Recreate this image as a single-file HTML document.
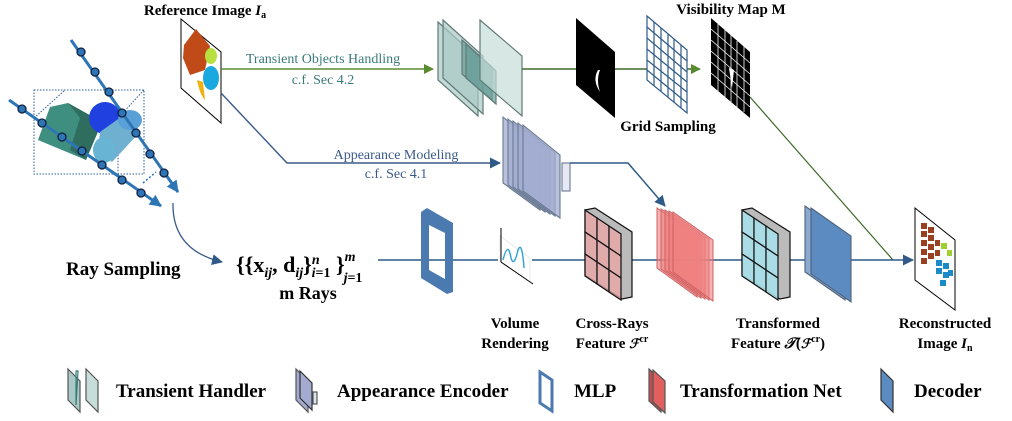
<!DOCTYPE html>
<html><head><meta charset="utf-8"><style>
body{margin:0;background:#fff;width:1012px;height:421px;overflow:hidden}
svg{display:block}
text{font-family:"Liberation Serif",serif}
.b{font-weight:bold;font-size:15px;fill:#000}
.lg{font-weight:bold;font-size:19px;fill:#000}
</style></head><body>
<svg width="1012" height="421" viewBox="0 0 1012 421" xmlns="http://www.w3.org/2000/svg">
<defs>
<marker id="ag" markerWidth="10" markerHeight="10" refX="9" refY="5" orient="auto" markerUnits="userSpaceOnUse"><path d="M0,0 L10,5 L0,10z" fill="#5a8a30"/></marker>
<marker id="ab" markerWidth="11" markerHeight="11" refX="10" refY="5.5" orient="auto" markerUnits="userSpaceOnUse"><path d="M0,0 L11,5.5 L0,11z" fill="#2f5a88"/></marker>
<marker id="ar" markerWidth="12" markerHeight="12" refX="11" refY="6" orient="auto" markerUnits="userSpaceOnUse"><path d="M0,0 L12,6 L0,12z" fill="#2e75b6"/></marker>
</defs>

<!-- 3D scene -->
<rect x="34" y="90" width="110" height="84" fill="none" stroke="#2e5c9a" stroke-dasharray="1.5,1.5"/>
<path d="M34,118 L65,90 M144,90 L118,118 L118,174" fill="none" stroke="#2e5c9a" stroke-dasharray="1.5,1.5"/>
<polygon points="50,107 68,103 102,122 86,160 38,140" fill="#3f8f80"/>
<polygon points="68,103 102,122 86,160 70,150 80,118" fill="#2f6d5f"/>
<circle cx="105" cy="118" r="16" fill="#2040e0"/>
<polygon points="100,132 128,112 140,132 112,162 98,150" fill="#6fb0d0"/>
<ellipse cx="130" cy="120" rx="12" ry="10" fill="#5aa0d8"/>
<ellipse cx="104" cy="150" rx="11" ry="13" fill="#68b4d4"/>
<line x1="71" y1="40" x2="178" y2="192" stroke="#2e75b6" stroke-width="3" marker-end="url(#ar)"/>
<line x1="9" y1="100" x2="161" y2="206" stroke="#2e75b6" stroke-width="3" marker-end="url(#ar)"/>
<line x1="143" y1="183" x2="156" y2="172" stroke="#2e75b6" stroke-width="1.5" stroke-dasharray="2,2"/>
<g fill="#2e75b6" stroke="#102040" stroke-width="1.3">
<circle cx="81" cy="52" r="4"/><circle cx="95" cy="72" r="4"/><circle cx="109" cy="92" r="4"/><circle cx="122" cy="113" r="4"/><circle cx="136" cy="133" r="4"/><circle cx="150" cy="154" r="4"/><circle cx="164" cy="173" r="4"/>
<circle cx="22" cy="109" r="4"/><circle cx="42" cy="123" r="4"/><circle cx="62" cy="137" r="4"/><circle cx="82" cy="151" r="4"/><circle cx="102" cy="165" r="4"/><circle cx="122" cy="180" r="4"/><circle cx="141" cy="193" r="4"/>
</g>
<path d="M173,203 Q172,250 222,262" fill="none" stroke="#3a5a8a" stroke-width="1.3" marker-end="url(#ab)"/>
<text class="b" x="66" y="275" style="font-size:19px">Ray Sampling</text>
<text x="236" y="272" font-size="22" font-weight="bold">{{x<tspan font-size="14" dy="5" font-style="italic">ij</tspan><tspan dy="-5">, d</tspan><tspan font-size="14" dy="5" font-style="italic">ij</tspan><tspan dy="-5">}</tspan><tspan font-size="14" dy="-8" font-style="italic">n</tspan><tspan font-size="14" dx="-8" dy="13" font-style="italic">i</tspan><tspan font-size="14">=1</tspan><tspan dy="-5"> }</tspan><tspan font-size="14" dy="-11" font-style="italic">m</tspan><tspan font-size="14" dx="-12" dy="21" font-style="italic">j</tspan><tspan font-size="14">=1</tspan></text>
<text class="b" x="308" y="299" text-anchor="middle" style="font-size:18px">m Rays</text>

<!-- reference image -->
<text class="b" x="205" y="15" text-anchor="middle">Reference Image <tspan font-style="italic">I</tspan><tspan font-size="10" dy="3">a</tspan></text>
<polygon points="181,19 221,52 221,123 181,88" fill="#fff" stroke="#000"/>
<polygon points="184,45 196,29 210,46 205,70 190,75 183,58" fill="#c04a18"/>
<ellipse cx="211" cy="56" rx="6" ry="8" fill="#b8e040"/>
<ellipse cx="211" cy="78" rx="8" ry="12" fill="#1aa8e0"/>
<path d="M197,80 Q200,95 205,100 L203,82z" fill="#f0b010"/>

<!-- transient line -->
<line x1="221" y1="69" x2="433" y2="69" stroke="#5a8a30" stroke-width="1.6" marker-end="url(#ag)"/>
<text x="323" y="63" text-anchor="middle" font-size="14" fill="#3a7a7a">Transient Objects Handling</text>
<text x="323" y="84" text-anchor="middle" font-size="14" fill="#3a7a7a">c.f. Sec 4.2</text>
<!-- appearance line -->
<polyline points="221,93 287,163 500,163" fill="none" stroke="#3a5a8a" stroke-width="1.4" marker-end="url(#ab)"/>
<text x="396" y="159" text-anchor="middle" font-size="14" fill="#3a5a8a">Appearance Modeling</text>
<text x="396" y="178" text-anchor="middle" font-size="14" fill="#3a5a8a">c.f. Sec 4.1</text>

<!-- transient handler -->
<g stroke="#5f7a78" stroke-width="1.2" fill="#a9c9c4" fill-opacity="0.7">
<polygon points="438,22 478,58 478,116 438,80"/>
<polygon points="443,20 483,56 483,114 443,78"/>
<polygon points="462,40 492,67 492,100 462,74" fill="#6a9e98"/>
<polygon points="466,44 496,71 496,104 466,78" fill="#6a9e98"/>
<polygon points="480,20 522,56 522,116 480,80" fill="#c6ddd9"/>
</g>
<line x1="522" y1="69" x2="700" y2="69" stroke="#3f6a2a" stroke-width="1.6" marker-end="url(#ag)"/>
<!-- mask -->
<polygon points="576,18 615,52 615,118 576,85" fill="#000"/>
<path d="M598,70 Q592,80 600,92 Q596,80 600,70z" fill="#fff"/>
<!-- grid -->
<g>
<polygon points="647,16 687,50 687,113 647,80" fill="#fff" stroke="#2f5a88" stroke-width="1.2"/>
<g stroke="#2f5a88" stroke-width="1.2">
<line x1="654" y1="22" x2="654" y2="86"/><line x1="661" y1="28" x2="661" y2="92"/><line x1="668" y1="34" x2="668" y2="97"/><line x1="674" y1="39" x2="674" y2="102"/><line x1="681" y1="45" x2="681" y2="108"/>
<line x1="647" y1="27" x2="687" y2="61"/><line x1="647" y1="38" x2="687" y2="72"/><line x1="647" y1="49" x2="687" y2="82"/><line x1="647" y1="60" x2="687" y2="92"/><line x1="647" y1="70" x2="687" y2="103"/>
</g></g>
<text class="b" x="668" y="131" text-anchor="middle">Grid Sampling</text>
<!-- visibility map -->
<text class="b" x="731" y="14" text-anchor="middle">Visibility Map M</text>
<polygon points="711,18 750,52 750,118 711,85" fill="#000"/>
<g stroke="#fff" stroke-width="0.8">
<line x1="718" y1="24" x2="718" y2="91"/><line x1="725" y1="30" x2="725" y2="97"/><line x1="731" y1="35" x2="731" y2="102"/><line x1="737" y1="41" x2="737" y2="107"/><line x1="744" y1="46" x2="744" y2="112"/>
<line x1="711" y1="29" x2="750" y2="63"/><line x1="711" y1="40" x2="750" y2="74"/><line x1="711" y1="51" x2="750" y2="85"/><line x1="711" y1="62" x2="750" y2="96"/><line x1="711" y1="73" x2="750" y2="107"/>
</g>
<path d="M729,68 L732,88 L734,70z" fill="#fff"/>
<line x1="750" y1="97" x2="893" y2="260" stroke="#3f6a2a" stroke-width="1.2"/>

<!-- appearance encoder -->
<g stroke="#6a7a92" stroke-width="1.1" fill="#a3acd0" fill-opacity="0.75">
<polygon points="503,117 540,147 540,210 503,183"/>
<polygon points="508,119 545,149 545,212 508,185"/>
<polygon points="513,121 550,151 550,214 513,187"/>
<polygon points="518,123 555,153 555,216 518,189"/>
<polygon points="523,125 560,155 560,218 523,191"/>
<rect x="562" y="163" width="8" height="28" fill="#dde2ef"/>
</g>
<polyline points="570,163 628,163 665,206" fill="none" stroke="#2f5a88" stroke-width="1.5" marker-end="url(#ab)"/>

<!-- main line -->
<line x1="378" y1="260" x2="913" y2="260" stroke="#2f5a88" stroke-width="1.6" marker-end="url(#ab)"/>
<!-- MLP -->
<path d="M421,212 L427,208 L453,223 L453,292 L447,294 L421,278z M429,225 L429,270 L445,279 L445,233z" fill="#4a7ab0" fill-rule="evenodd"/>
<!-- volume rendering icon -->
<rect x="498" y="228" width="34" height="54" fill="#fff"/>
<polygon points="500,236 530,258 530,282 500,262" fill="#fff" stroke="#ddd" stroke-width="0.6"/>
<line x1="501" y1="262" x2="501" y2="228" stroke="#000" stroke-width="1"/>
<line x1="501" y1="262" x2="533" y2="284" stroke="#000" stroke-width="1"/>
<path d="M503,260 Q508,240 511,258 Q514,268 518,250 Q522,240 524,268" fill="none" stroke="#2fa0d8" stroke-width="1.4"/>
<text class="b" x="515" y="328" text-anchor="middle">Volume</text>
<text class="b" x="515" y="348" text-anchor="middle">Rendering</text>

<!-- cross rays grid -->
<g stroke="#111" stroke-width="1.2">
<polygon points="585,210 595,208 632,232 632,297 622,299 585,275" fill="#bbb"/>
<g fill="#e8a8a8" fill-opacity="0.8">
<polygon points="585,210 597,218 597,240 585,232"/><polygon points="597,218 609,226 609,248 597,240"/><polygon points="609,226 621,234 621,256 609,248"/>
<polygon points="585,232 597,240 597,262 585,254"/><polygon points="597,240 609,248 609,270 597,262"/><polygon points="609,248 621,256 621,278 609,270"/>
<polygon points="585,254 597,262 597,284 585,276"/><polygon points="597,262 609,270 609,292 597,284"/><polygon points="609,270 621,278 621,300 609,292"/>
</g></g>
<text class="b" x="612" y="328" text-anchor="middle">Cross-Rays</text>
<text class="b" x="612" y="348" text-anchor="middle">Feature <tspan font-style="italic" font-family="DejaVu Serif" font-size="13">ℱ</tspan><tspan font-size="10" dy="-6">cr</tspan></text>

<!-- transformation net -->
<g stroke="#d06060" stroke-width="1" fill="#ee8080" fill-opacity="0.6">
<polygon points="657,208 697,236 697,297 657,268"/>
<polygon points="661,209 701,237 701,298 661,269"/>
<polygon points="665,210 705,238 705,299 665,270"/>
<polygon points="669,211 709,239 709,300 669,271"/>
<polygon points="673,212 713,240 713,301 673,272"/>
</g>

<!-- transformed grid -->
<g stroke="#111" stroke-width="1.2">
<polygon points="742,210 752,208 790,232 790,297 780,299 742,275" fill="#bbb"/>
<g fill="#a8e0ea" fill-opacity="0.9">
<polygon points="742,210 754,218 754,240 742,232"/><polygon points="754,218 766,226 766,248 754,240"/><polygon points="766,226 778,234 778,256 766,248"/>
<polygon points="742,232 754,240 754,262 742,254"/><polygon points="754,240 766,248 766,270 754,262"/><polygon points="766,248 778,256 778,278 766,270"/>
<polygon points="742,254 754,262 754,284 742,276"/><polygon points="754,262 766,270 766,292 754,284"/><polygon points="766,270 778,278 778,300 766,292"/>
</g></g>
<text class="b" x="778" y="328" text-anchor="middle">Transformed</text>
<text class="b" x="778" y="348" text-anchor="middle">Feature <tspan font-style="italic">𝒯</tspan>(<tspan font-style="italic" font-family="DejaVu Serif" font-size="13">ℱ</tspan><tspan font-size="10" dy="-6">cr</tspan><tspan dy="6">)</tspan></text>

<!-- decoder -->
<g stroke="#50627a" stroke-width="1.1">
<polygon points="805,206 845,234 845,300 805,272" fill="#8aaad0"/>
<polygon points="811,208 851,236 851,302 811,274" fill="#5b8bc0"/>
</g>

<!-- reconstructed -->
<polygon points="915,208 955,240 955,310 915,280" fill="#fff" stroke="#000"/>
<g fill="#9a4020">
<rect x="921" y="223" width="6" height="6"/><rect x="928" y="227" width="6" height="6"/><rect x="921" y="231" width="6" height="6"/><rect x="928" y="235" width="6" height="6"/><rect x="921" y="240" width="6" height="6"/><rect x="928" y="244" width="6" height="6"/><rect x="921" y="249" width="6" height="6"/><rect x="928" y="253" width="6" height="6"/><rect x="921" y="258" width="6" height="6"/><rect x="935" y="240" width="5" height="6"/><rect x="935" y="250" width="5" height="6"/>
</g>
<g fill="#a0d030"><rect x="941" y="243" width="6" height="6"/><rect x="947" y="250" width="5" height="6"/></g>
<g fill="#1a8ac8"><rect x="936" y="260" width="6" height="6"/><rect x="943" y="263" width="6" height="6"/><rect x="936" y="268" width="6" height="6"/><rect x="943" y="272" width="6" height="6"/><rect x="940" y="280" width="6" height="6"/><rect x="948" y="270" width="5" height="6"/></g>
<text class="b" x="945" y="328" text-anchor="middle">Reconstructed</text>
<text class="b" x="945" y="348" text-anchor="middle">Image <tspan font-style="italic">I</tspan><tspan font-size="10" dy="3">n</tspan></text>

<!-- legend -->
<g stroke="#555" stroke-width="1.2">
<polygon points="68,369 80,381 80,412 68,400" fill="#a9c9c4"/>
<polygon points="78,371 76,371 76,405" fill="none" stroke="#3a7a7a"/>
<polygon points="86,369 98,381 98,412 86,400" fill="#c6ddd9"/>
<polygon points="296,369 308,381 308,412 296,400" fill="#a3acd0"/>
<polygon points="300,371 312,383 312,410 300,398" fill="#a3acd0" stroke="#333"/>
<rect x="313" y="392" width="4" height="12" fill="#dde2ef"/>
<polygon points="540,372 552,380 552,411 540,403" fill="#fff" stroke="#4a7ab0" stroke-width="3"/>
<polygon points="649,369 661,380 661,412 649,401" fill="#c05050"/>
<polygon points="653,370 665,381 665,413 653,402" fill="#e06060"/>
<polygon points="881,369 893,381 893,412 881,400" fill="#5b8bc0" stroke="#333"/>
</g>
<text class="lg" x="116" y="397">Transient Handler</text>
<text class="lg" x="337" y="397">Appearance Encoder</text>
<text class="lg" x="574" y="397">MLP</text>
<text class="lg" x="680" y="397">Transformation Net</text>
<text class="lg" x="914" y="397">Decoder</text>
</svg>
</body></html>
